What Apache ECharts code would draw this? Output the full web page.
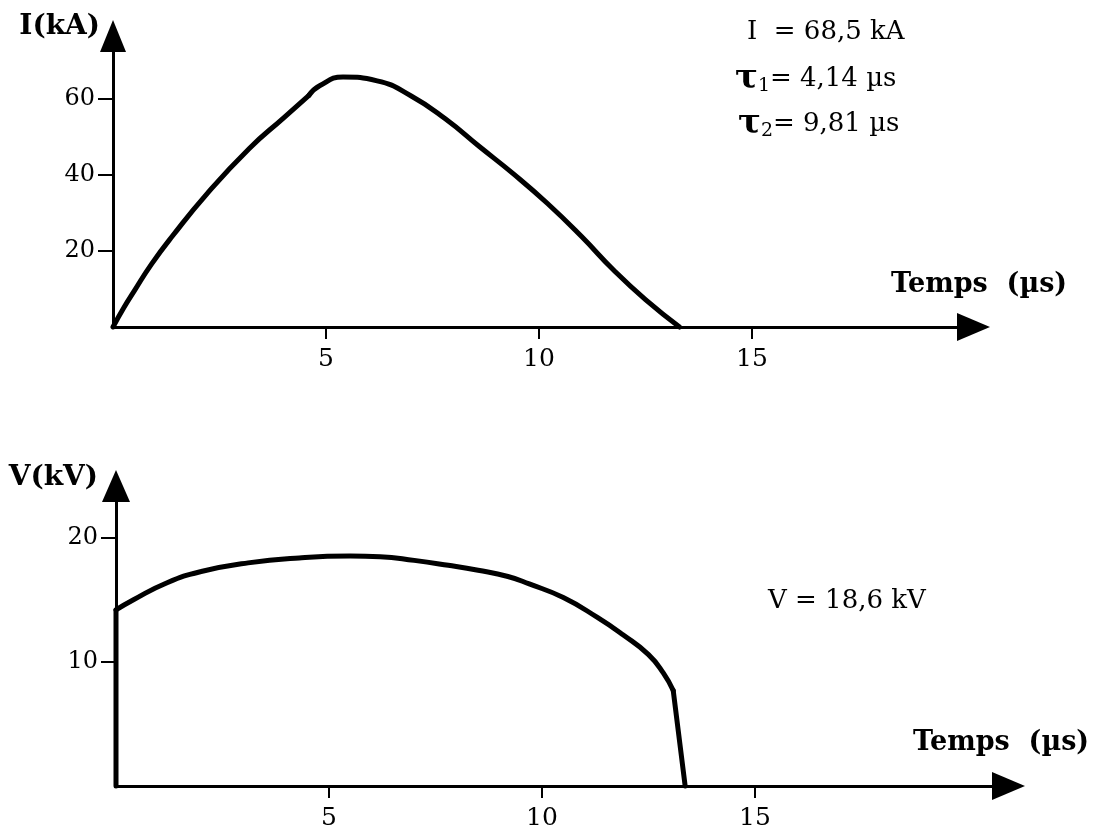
<!DOCTYPE html>
<html><head><meta charset="utf-8">
<script src="https://cdn.jsdelivr.net/npm/echarts@6/dist/echarts.min.js"></script>
<style>html,body{margin:0;padding:0;background:#fff}#c{width:1094px;height:832px}</style>
</head><body><div id="c"></div>
<script>
// ---- data ----
const timeTicks = [5, 10, 15];
const currentTicks = [20, 40, 60];
const voltageTicks = [10, 20];
// current I(kA) vs time (µs)
const currentRise = [[0,0],[0.25,5],[0.5,9.5],[0.9,16.5],[1.4,24],[2.2,35],[3.2,47],[4.0,55],[4.6,61]];
const currentFall = [[4.6,61],[4.85,63.5],[5.4,65.8],[6.2,64.8],[7.0,60.8],[7.8,54.8],[8.6,47.5],[9.4,40.3],[10.2,32.5],[11.0,23.8],[11.75,15],[12.5,7.2],[13.3,0]];
// voltage V(kV) vs time (µs)
const voltageJump = [[0,0],[0,14.2]];
const voltageCurve = [[0,14.2],[0.4,15],[1.2,16.4],[2.0,17.3],[3.1,18.0],[4.3,18.4],[5.5,18.55],[6.2,18.5],[7.0,18.2],[7.8,17.8],[8.5,17.4],[9.2,16.9],[9.7,16.3],[10.5,15.2],[11.3,13.6],[11.9,12.2],[12.5,10.6],[12.85,9.1],[13.08,7.7]];
const voltageDrop = [[13.08,7.7],[13.36,0]];
const currentAxisName = 'I(kA)';
const voltageAxisName = 'V(kV)';
const timeAxisName = 'Temps  (µs)';
const noteI = 'I  = 68,5 kA';
const noteTau1 = ['τ', '1', '= 4,14 µs'];
const noteTau2 = ['τ', '2', '= 9,81 µs'];
const noteV = 'V = 18,6 kV';

// ---- chart ----
const SERIF = "'DejaVu Serif', 'Liberation Serif', serif";
const BLACK = '#000';

function xAxisCfg(gridIndex, max, arrow) {
  return {
    type: 'value', gridIndex: gridIndex, min: 0, max: max,
    axisLine: { show: true, onZero: false, symbol: ['none', 'triangle'], symbolSize: arrow,
      lineStyle: { color: BLACK, width: 3 } },
    axisTick: { show: true, customValues: timeTicks, length: 12, lineStyle: { color: BLACK, width: 2 } },
    axisLabel: { show: true, customValues: timeTicks, margin: 20, color: BLACK, fontFamily: SERIF, fontSize: 25 },
    splitLine: { show: false }
  };
}
function yAxisCfg(gridIndex, max, ticks, name, arrow, gap, pad) {
  return {
    type: 'value', gridIndex: gridIndex, min: 0, max: max,
    axisLine: { show: true, onZero: false, symbol: ['none', 'triangle'], symbolSize: arrow,
      lineStyle: { color: BLACK, width: 3 } },
    axisTick: { show: true, customValues: ticks, length: 15, lineStyle: { color: BLACK, width: 2 } },
    axisLabel: { show: true, customValues: ticks, margin: 18, color: BLACK, fontFamily: SERIF, fontSize: 24 },
    splitLine: { show: false },
    name: name, nameLocation: 'end', nameGap: gap, nameMoveOverlap: false,
    nameTextStyle: { color: BLACK, fontFamily: SERIF, fontSize: 28, fontWeight: 'bold',
      align: 'right', verticalAlign: 'middle', padding: [0, pad, 0, 0] }
  };
}
function lineSeries(data, xi, smooth) {
  return { type: 'line', xAxisIndex: xi, yAxisIndex: xi, data: data, smooth: smooth,
    showSymbol: false, symbol: 'none', clip: false, silent: true,
    lineStyle: { color: BLACK, width: 5, cap: 'round', join: 'round' } };
}
const tauRich = {
  tau: { fontFamily: SERIF, fontSize: 34, fontWeight: 'bold', fill: BLACK },
  sub: { fontFamily: SERIF, fontSize: 19, fill: BLACK, padding: [14, 0, 0, 0] },
  txt: { fontFamily: SERIF, fontSize: 26, fill: BLACK }
};
function tauText(parts) { return '{tau|' + parts[0] + '}{sub|' + parts[1] + '}{txt|' + parts[2] + '}'; }
const nameStyle = { text: timeAxisName, fontFamily: SERIF, fontSize: 27, fontWeight: 'bold', fill: BLACK };

const chart = echarts.init(document.getElementById('c'), null, { renderer: 'canvas' });
chart.setOption({
  backgroundColor: '#fff',
  animation: false,
  grid: [
    { left: 113, top: 36, width: 860.5, height: 291, containLabel: false, outerBoundsMode: 'none' },
    { left: 116, top: 486, width: 892.5, height: 300, containLabel: false, outerBoundsMode: 'none' }
  ],
  xAxis: [ xAxisCfg(0, 20.2, [28, 33]), xAxisCfg(1, 20.95, [28, 33]) ],
  yAxis: [
    yAxisCfg(0, 76.6, currentTicks, currentAxisName, [26, 32], 9, 13),
    yAxisCfg(1, 24.2, voltageTicks, voltageAxisName, [28, 32], 8, 18)
  ],
  series: [
    lineSeries(currentRise, 0, 0.5),
    lineSeries(currentFall, 0, 0.5),
    lineSeries(voltageJump, 1, false),
    lineSeries(voltageCurve, 1, 0.5),
    lineSeries(voltageDrop, 1, false)
  ],
  graphic: [
    { type: 'text', left: 891, top: 271, style: nameStyle },
    { type: 'text', left: 913, top: 729, style: nameStyle },
    { type: 'text', left: 747, top: 19, style: { text: noteI, fontFamily: SERIF, fontSize: 26, fill: BLACK } },
    { type: 'text', left: 735, top: 62, style: { text: tauText(noteTau1), rich: tauRich } },
    { type: 'text', left: 738, top: 107, style: { text: tauText(noteTau2), rich: tauRich } },
    { type: 'text', left: 768, top: 588, style: { text: noteV, fontFamily: SERIF, fontSize: 26, fill: BLACK } }
  ]
});
</script>
</body></html>
